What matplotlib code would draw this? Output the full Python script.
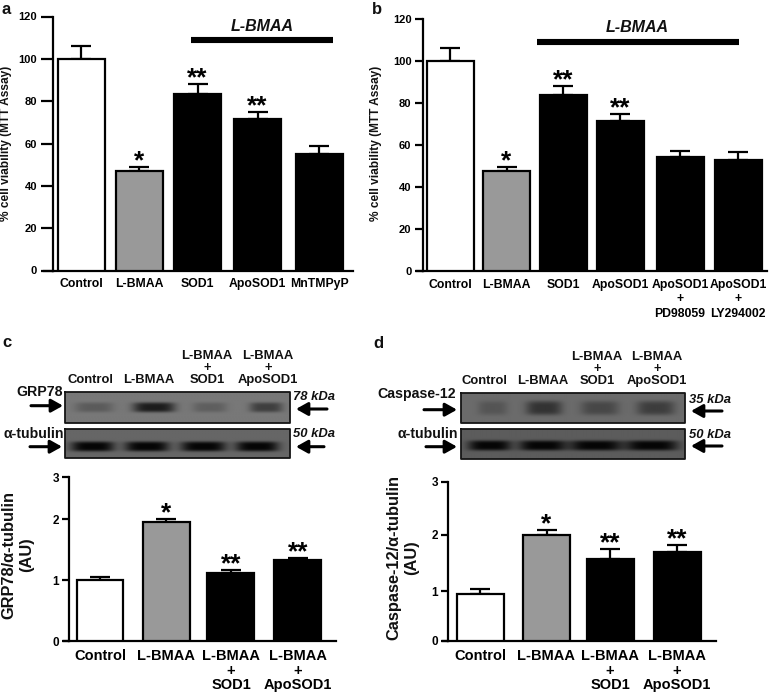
import numpy as np
import matplotlib
matplotlib.use("Agg")
import matplotlib.pyplot as plt

plt.rcParams['font.family'] = ['Liberation Sans', 'DejaVu Sans']
plt.rcParams['font.weight'] = 'bold'
plt.rcParams['text.color'] = '#111111'

W, H = 769, 694

# values
labels_a = ["Control", "L-BMAA", "SOD1", "ApoSOD1", "MnTMPyP"]
values_a = [100, 47, 83.5, 71.5, 55]
errors_a = [6, 2, 4.5, 3.5, 4]
stars_a = ["", "*", "**", "**", ""]

labels_b = ["Control", "L-BMAA", "SOD1", "ApoSOD1", "ApoSOD1\n+\nPD98059", "ApoSOD1\n+\nLY294002"]
values_b = [100, 47.5, 84, 71.5, 54.5, 53]
errors_b = [6, 1.8, 4.2, 3.3, 2.5, 3.8]
stars_b = ["", "*", "**", "**", "", ""]

labels_c = ["Control", "L-BMAA", "L-BMAA\n+\nSOD1", "L-BMAA\n+\nApoSOD1"]
values_c = [1.01, 1.96, 1.12, 1.33]
errors_c = [0.05, 0.04, 0.05, 0.04]
stars_c = ["", "*", "**", "**"]

labels_d = ["Control", "L-BMAA", "L-BMAA\n+\nSOD1", "L-BMAA\n+\nApoSOD1"]
values_d = [0.95, 2.0, 1.56, 1.70]
errors_d = [0.08, 0.09, 0.18, 0.12]
stars_d = ["", "*", "**", "**"]

# band darkness of the blots (0 = none, 1 = full)
grp78_bands = [0.25, 0.8, 0.22, 0.5]
casp12_bands = [0.22, 0.55, 0.35, 0.45]
tubulin_c_bands = [1.0, 1.0, 1.0, 1.0]
tubulin_d_bands = [1.0, 1.0, 1.0, 1.0]

# layout, in picture pixels
centers_a = [81, 139, 197.5, 257.5, 319]
centers_b = [450, 506.5, 563, 620, 680, 738]
centers_c = [100, 166, 231, 298]
centers_d = [480, 546.5, 610, 677]
FILLS = ['white', '#999999', 'black', 'black', 'black', 'black']


def panel(box, ylim, ticks, names, centers, values, errors, stars, bw, tl, size,
          ticklabel_size, pad, spacing, scale_px=None, star_size=19):
    left, right, top, bottom = box
    ax = fig.add_axes([left / W, 1 - bottom / H, (right - left) / W, (bottom - top) / H])
    ax.patch.set_alpha(0)
    if scale_px is not None:
        nominal = [0, 1, 2, 3]
        ax.set_yscale('function', functions=(
            lambda v: np.interp(v, nominal, scale_px),
            lambda p: np.interp(p, scale_px, nominal)))
    ax.set_xlim(left, right)
    ax.set_ylim(*ylim)
    ax.bar(centers, values, width=bw, color=FILLS[:len(values)], edgecolor='black', linewidth=1.6, zorder=3)
    ax.errorbar(centers, values, yerr=[[0] * len(errors), errors], fmt='none', ecolor='black',
                elinewidth=1.6, capsize=7, capthick=1.6, zorder=2)
    for x, v, e, s in zip(centers, values, errors, stars):
        if s:
            ax.annotate(s, (x, v + e), xytext=(0, -4.5), textcoords='offset points', ha='center',
                        va='bottom', fontsize=star_size, color='black')
    for side in ['top', 'right']:
        ax.spines[side].set_visible(False)
    ax.spines['left'].set_linewidth(1.6)
    ax.spines['bottom'].set_linewidth(1.6)
    ax.set_yticks(ticks)
    ax.minorticks_off()
    ax.set_yticklabels([str(t) for t in ticks], fontsize=size)
    ax.tick_params(axis='y', length=tl, width=1.6, pad=2)
    ax.set_xticks(centers)
    ax.set_xticklabels(names, fontsize=ticklabel_size, linespacing=spacing)
    ax.tick_params(axis='x', length=0, pad=pad)
    # the bottom line runs a little to the left of the y axis
    ax.plot([left - tl, left], [0, 0], color='black', lw=1.6, clip_on=False)
    return ax


def blot(ov, box, bands, spans, yc, base, hh):
    left, right, top, bottom = box
    xs = np.linspace(left, right, 300)
    ys = np.linspace(top, bottom, 60)
    xx, yy = np.meshgrid(xs, ys)
    img = np.full(xx.shape, base)
    for d, (x0, x1) in zip(bands, spans):
        cx = (x0 + x1) / 2
        hw = (x1 - x0) / 2
        shape = np.exp(-((xx - cx) / hw) ** 4) * np.exp(-((yy - yc) / hh) ** 4)
        img = img - d * (base - 0.02) * shape
    ov.imshow(img, extent=(left, right, bottom, top), cmap='gray', vmin=0, vmax=1,
              aspect='auto', interpolation='bilinear', zorder=1)
    ov.plot([left, right, right, left, left], [top, top, bottom, bottom, top], color='#151515', lw=1.3, zorder=2)


def arrow(ov, x0, x1, y):
    ov.annotate('', xy=(x1, y), xytext=(x0, y),
                arrowprops=dict(arrowstyle='-|>,head_length=0.5,head_width=0.28', lw=2.2, color='black',
                                mutation_scale=14, shrinkA=0, shrinkB=0))


fig = plt.figure(figsize=(W / 100, H / 100), dpi=100)

panel((52.5, 353, 16.5, 270.5), (0, 120), [0, 20, 40, 60, 80, 100, 120], labels_a, centers_a,
      values_a, errors_a, stars_a, 47, 9, 8, 8.8, 5.5, 1.05)
panel((422.5, 767, 19, 271), (0, 120), [0, 20, 40, 60, 80, 100, 120], labels_b, centers_b,
      values_b, errors_b, stars_b, 47, 6, 8, 8.8, 5.5, 1.3)
# tick spacing of the two lower y axes is not even in the picture
panel((68.5, 336, 477.3, 641), (0, 3), [0, 1, 2, 3], labels_c, centers_c,
      values_c, errors_c, stars_c, 47, 5, 8.5, 10.5, 6, 1.05, scale_px=[0, 182, 365, 491])
panel((448, 716, 481.7, 640.7), (0, 3), [0, 1, 2, 3], labels_d, centers_d,
      values_d, errors_d, stars_d, 47, 5, 8.5, 10.5, 6, 1.05, scale_px=[0, 149, 318, 477])

# overlay in pixel coordinates for blots and free text
ov = fig.add_axes([0, 0, 1, 1], zorder=5)
ov.patch.set_alpha(0)
ov.axis('off')

blot(ov, (65, 290, 391.7, 422.7), grp78_bands, [(75, 113), (133, 175), (193, 227), (250, 283)], 407, 0.47, 5)
blot(ov, (65, 290, 429, 458), tubulin_c_bands, [(71, 114), (125, 169), (181, 226), (236, 279)], 446.5, 0.4, 5)
blot(ov, (461, 685, 393.3, 422.7), casp12_bands, [(478, 507), (526, 562), (581, 619), (637, 675)], 408, 0.42, 7)
blot(ov, (461, 685, 429.3, 458.7), tubulin_d_bands, [(468, 511), (519, 566), (570, 622), (626, 678)], 445.5, 0.36, 5)
ov.set_xlim(0, W)
ov.set_ylim(H, 0)

for x0, x1, y in [(31, 63, 405.7), (30, 62, 446.7), (327, 296, 409), (324, 296, 446.7),
                  (424, 457, 409.7), (426, 457, 446.7), (722, 691, 411), (722, 691, 446)]:
    arrow(ov, x0, x1, y)

# L-BMAA treatment bars
ov.plot([191, 333], [40, 40], color='black', lw=4.4, solid_capstyle='butt')
ov.plot([537, 739], [42, 42], color='black', lw=4.4, solid_capstyle='butt')
ov.text(262, 26, "L-BMAA", style='italic', fontsize=11.5, ha='center', va='center')
ov.text(637, 27, "L-BMAA", style='italic', fontsize=11.5, ha='center', va='center')

# panel letters
for s, x, y in [('a', 2, 9), ('b', 372, 9), ('c', 2, 342), ('d', 373, 343)]:
    ov.text(x, y, s, fontsize=12, ha='left', va='center')

# y labels
ov.text(6, 143, "% cell viability (MTT Assay)", rotation=90, fontsize=8.6, ha='center', va='center')
ov.text(376, 143, "% cell viability (MTT Assay)", rotation=90, fontsize=8.6, ha='center', va='center')
ov.text(18, 555, "GRP78/\u03b1-tubulin\n(AU)", rotation=90, fontsize=11.8, ha='center', va='center',
        multialignment='center', linespacing=1.2)
ov.text(403, 558, "Caspase-12/\u03b1-tubulin\n(AU)", rotation=90, fontsize=11.8, ha='center', va='center',
        multialignment='center', linespacing=1.2)

# blot lane labels
for x, s in [(90.7, "Control"), (149, "L-BMAA"), (207, "L-BMAA\n+\nSOD1"), (268, "L-BMAA\n+\nApoSOD1")]:
    ov.text(x, 386, s, fontsize=9.4, ha='center', va='bottom', linespacing=1.02, multialignment='center')
for x, s in [(484, "Control"), (543, "L-BMAA"), (597, "L-BMAA\n+\nSOD1"), (657, "L-BMAA\n+\nApoSOD1")]:
    ov.text(x, 387, s, fontsize=9.4, ha='center', va='bottom', linespacing=1.02, multialignment='center')

ov.text(63, 392, "GRP78", fontsize=10.2, ha='right', va='center')
ov.text(64, 433.7, "\u03b1-tubulin", fontsize=10.2, ha='right', va='center')
ov.text(456, 394, "Caspase-12", fontsize=10.2, ha='right', va='center')
ov.text(458, 433.7, "\u03b1-tubulin", fontsize=10.2, ha='right', va='center')
for x, y, s in [(293, 397, "78 kDa"), (293, 434, "50 kDa"), (689, 400, "35 kDa"), (689, 434.7, "50 kDa")]:
    ov.text(x, y, s, style='italic', fontsize=9.4, ha='left', va='center')

fig.savefig("out.png", dpi=100)
